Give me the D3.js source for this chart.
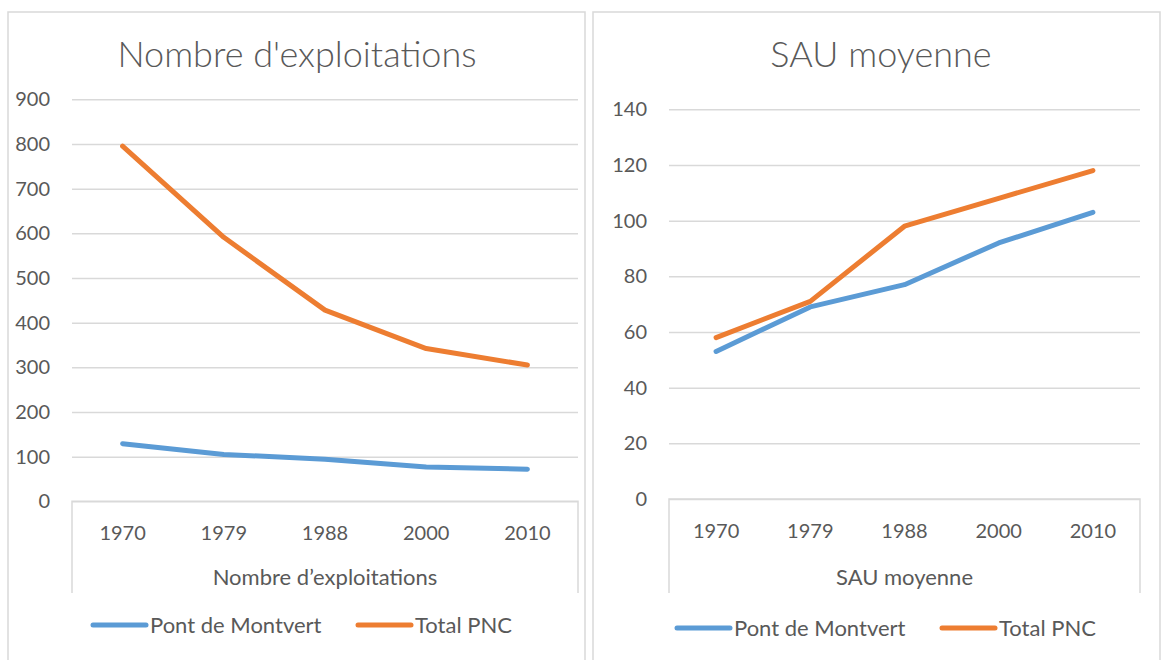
<!DOCTYPE html>
<html>
<head>
<meta charset="utf-8">
<title>Exploitations et SAU</title>
<script type="text/javascript" src="https://d3js.org/d3.v7.min.js"></script>
<style type="text/css">
  body { margin: 0; background: white; }
  .txt { font-family: Lato, "Open Sans", sans-serif; fill: #595959; }
  .title { font-size: 36px; font-weight: 300; text-anchor: middle; }
  .tick_lbl { font-size: 20px; }
  .axis_ttl { font-size: 22px; }
  .leg_lbl { font-size: 22px; }
</style>
</head>
<body>
<svg id="chart" width="1162" height="660"></svg>
<script type="text/javascript">

var years = ["1970", "1979", "1988", "2000", "2010"];
var seriesNames = ["Pont de Montvert", "Total PNC"];
var seriesColors = ["#5b9bd5", "#ed7d31"];

// Nombre d'exploitations
var explPont = [129, 105, 94, 77, 72];
var explPnc = [795, 591, 428, 342, 305];
var explTicks = [0, 100, 200, 300, 400, 500, 600, 700, 800, 900];

// SAU moyenne
var sauPont = [53, 69, 77, 92, 103];
var sauPnc = [58, 71, 98, 108, 118];
var sauTicks = [0, 20, 40, 60, 80, 100, 120, 140];

var svg = d3.select("#chart");

function drawPanel(opt) {
  var g = svg.append("g");

  // panel frame
  g.append("rect")
    .attr("x", opt.box[0]).attr("y", opt.box[1])
    .attr("width", opt.box[2] - opt.box[0]).attr("height", opt.box[3] - opt.box[1])
    .attr("fill", "white").attr("stroke", "#d9d9d9").attr("stroke-width", 1.5);

  g.append("text").attr("class", "txt title")
    .attr("x", opt.titleX).attr("y", 67)
    .text(opt.title);

  var x = d3.scaleBand().domain(years).range([opt.left, opt.right]);
  var y = d3.scaleLinear().domain([0, d3.max(opt.ticks)]).range([opt.bottom, opt.top]);

  // gridlines + y labels
  var yAxis = d3.axisLeft(y).tickValues(opt.ticks).tickSize(-(opt.right - opt.left)).tickPadding(22);
  var ya = g.append("g").attr("transform", "translate(" + opt.left + ",0)").call(yAxis);
  ya.select(".domain").remove();
  ya.selectAll(".tick line").attr("stroke", "#d9d9d9").attr("stroke-width", 1.5);
  ya.selectAll(".tick text").attr("class", "txt tick_lbl").attr("fill", "#595959");

  // category axis box
  var boxBottom = 593;
  g.append("path")
    .attr("d", "M" + opt.left + "," + boxBottom + "V" + opt.bottom + "H" + opt.right + "V" + boxBottom)
    .attr("fill", "none").attr("stroke", "#d9d9d9").attr("stroke-width", 1.5);

  var xAxis = d3.axisBottom(x).tickSize(0).tickPadding(25);
  var xa = g.append("g").attr("transform", "translate(0," + opt.bottom + ")").call(xAxis);
  xa.select(".domain").remove();
  xa.selectAll(".tick text").attr("class", "txt tick_lbl").attr("fill", "#595959");

  g.append("text").attr("class", "txt axis_ttl")
    .attr("x", (opt.left + opt.right) / 2).attr("y", 585)
    .attr("text-anchor", "middle")
    .text(opt.axisTitle);

  // lines
  var line = d3.line()
    .x(function(d, i) { return x(years[i]) + x.bandwidth() / 2; })
    .y(function(d) { return y(d); });

  opt.series.forEach(function(vals, k) {
    g.append("path").datum(vals)
      .attr("d", line)
      .attr("fill", "none")
      .attr("stroke", seriesColors[k])
      .attr("stroke-width", 5)
      .attr("stroke-linecap", "round")
      .attr("stroke-linejoin", "round");
  });

  // legend
  opt.legend.forEach(function(lx, k) {
    g.append("line")
      .attr("x1", lx).attr("x2", lx + 53)
      .attr("y1", opt.legendY).attr("y2", opt.legendY)
      .attr("stroke", seriesColors[k]).attr("stroke-width", 5).attr("stroke-linecap", "round");
    g.append("text").attr("class", "txt leg_lbl")
      .attr("x", lx + 57).attr("y", opt.legendY + 8)
      .text(seriesNames[k]);
  });
}

drawPanel({
  box: [8, 12, 585, 670],
  title: "Nombre d'exploitations",
  titleX: 297,
  axisTitle: "Nombre d\u2019exploitations",
  left: 72, right: 578, top: 99.3, bottom: 501.3,
  ticks: explTicks,
  series: [explPont, explPnc],
  legend: [93, 358],
  legendY: 625
});

drawPanel({
  box: [593, 12, 1160, 670],
  title: "SAU moyenne",
  titleX: 881,
  axisTitle: "SAU moyenne",
  left: 669, right: 1140, top: 109.3, bottom: 499,
  ticks: sauTicks,
  series: [sauPont, sauPnc],
  legend: [677, 942],
  legendY: 628
});

</script>
</body>
</html>
